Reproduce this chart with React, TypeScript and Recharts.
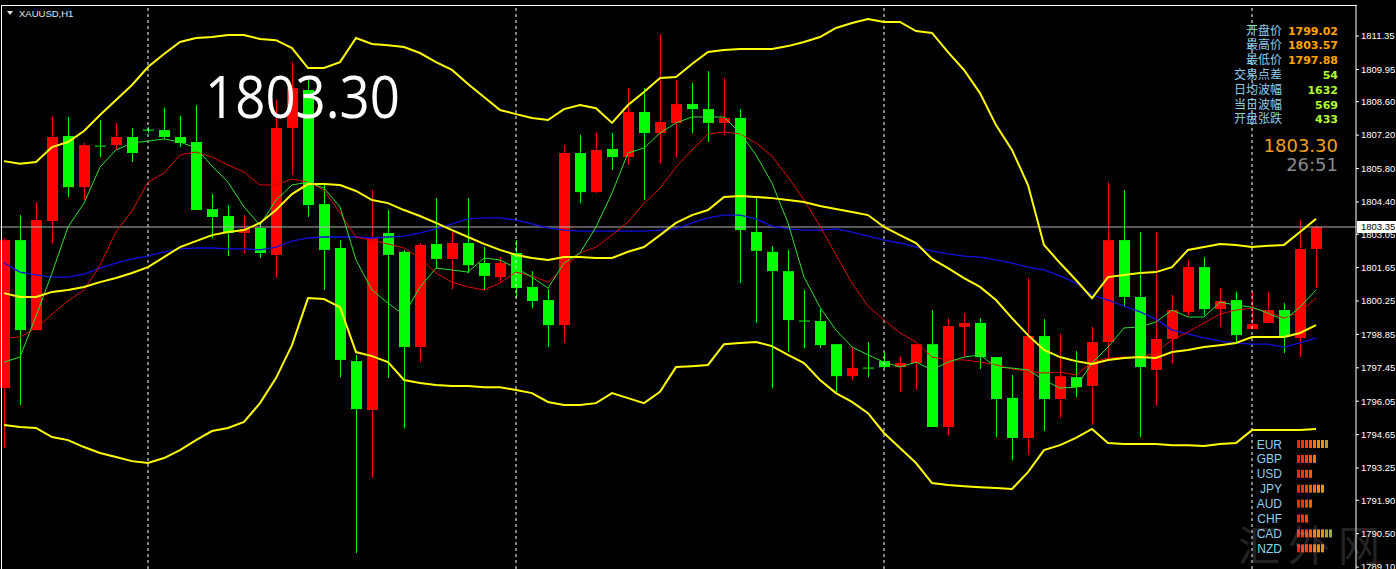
import { ComposedChart, Bar, Line, XAxis, YAxis, ReferenceLine } from "recharts";

const W = 1396;
const H = 569;

// XAUUSD H1 candles, oldest first
const opens = [1796.60, 1802.80, 1799.03, 1803.60, 1807.16, 1805.02, 1806.76, 1806.78, 1807.12, 1807.43,
  1807.41, 1807.12, 1806.91, 1804.10, 1803.81, 1803.10, 1803.31, 1802.18, 1807.50, 1809.09,
  1804.31, 1802.47, 1797.73, 1795.68, 1803.10, 1802.31, 1798.32, 1802.64, 1802.01, 1802.68,
  1801.84, 1801.25, 1802.26, 1800.84, 1800.29, 1799.24, 1806.45, 1804.81, 1806.62, 1806.28,
  1808.17, 1807.29, 1807.71, 1808.50, 1808.29, 1807.71, 1807.92, 1803.14, 1802.31, 1801.50,
  1799.43, 1799.41, 1798.44, 1797.10, 1797.46, 1797.73, 1797.48, 1797.65, 1798.44, 1794.97,
  1799.16, 1799.33, 1797.90, 1796.19, 1794.51, 1798.78, 1796.14, 1797.06, 1796.69, 1798.53,
  1802.80, 1800.42, 1797.36, 1798.66, 1799.79, 1801.67, 1799.91, 1800.29, 1799.07, 1799.33,
  1799.87, 1798.70, 1802.43];
const highs = [1802.89, 1803.85, 1804.40, 1807.96, 1807.96, 1806.87, 1807.83, 1807.71, 1807.50, 1807.54,
  1808.33, 1808.00, 1808.46, 1804.73, 1804.27, 1803.85, 1803.56, 1808.67, 1810.26, 1809.51,
  1805.19, 1802.80, 1797.99, 1804.90, 1804.06, 1802.39, 1802.68, 1804.56, 1803.14, 1804.56,
  1802.51, 1802.09, 1802.80, 1801.50, 1800.75, 1806.78, 1807.21, 1807.29, 1807.29, 1809.17,
  1809.17, 1811.44, 1809.51, 1809.38, 1809.88, 1809.59, 1808.29, 1804.56, 1802.56, 1802.39,
  1800.71, 1799.91, 1798.44, 1798.32, 1798.53, 1798.07, 1797.90, 1798.44, 1799.87, 1799.53,
  1799.74, 1799.53, 1797.90, 1797.15, 1801.21, 1799.49, 1798.87, 1798.15, 1799.16, 1805.23,
  1804.90, 1803.14, 1803.14, 1800.50, 1801.97, 1802.09, 1800.79, 1800.62, 1800.58, 1800.62,
  1800.16, 1803.64, 1803.43];
const lows = [1794.09, 1795.89, 1799.03, 1802.68, 1804.61, 1804.48, 1806.28, 1806.58, 1806.07, 1807.29,
  1807.04, 1806.70, 1804.06, 1802.89, 1802.13, 1802.26, 1802.05, 1801.21, 1805.53, 1803.77,
  1800.71, 1797.06, 1789.69, 1792.83, 1797.02, 1794.93, 1797.69, 1801.63, 1800.75, 1801.42,
  1800.71, 1801.04, 1800.37, 1799.95, 1798.32, 1798.49, 1804.35, 1804.77, 1805.74, 1805.95,
  1804.48, 1806.03, 1806.24, 1807.29, 1806.91, 1807.21, 1801.00, 1799.33, 1796.60, 1798.11,
  1798.28, 1798.28, 1796.44, 1796.94, 1797.06, 1797.44, 1796.44, 1796.52, 1794.97, 1794.63,
  1797.90, 1797.40, 1794.55, 1793.59, 1793.80, 1794.80, 1795.35, 1796.23, 1795.06, 1797.78,
  1799.99, 1794.55, 1795.85, 1797.65, 1799.66, 1799.66, 1799.16, 1798.49, 1799.07, 1799.33,
  1798.07, 1797.90, 1800.79];
const closes = [1802.80, 1799.03, 1803.64, 1807.12, 1805.02, 1806.78, 1806.72, 1807.12, 1806.45, 1807.39,
  1807.12, 1806.87, 1804.06, 1803.77, 1803.10, 1803.27, 1802.26, 1807.50, 1809.17, 1804.27,
  1802.39, 1797.78, 1795.72, 1802.89, 1802.18, 1798.32, 1802.60, 1802.01, 1802.68, 1801.75,
  1801.30, 1801.84, 1800.79, 1800.25, 1799.24, 1806.45, 1804.81, 1806.58, 1806.28, 1808.17,
  1807.29, 1807.75, 1808.50, 1808.29, 1807.71, 1807.92, 1803.22, 1802.35, 1801.50, 1799.45,
  1799.39, 1798.40, 1797.10, 1797.44, 1797.42, 1797.48, 1797.65, 1798.44, 1794.97, 1799.20,
  1799.33, 1797.90, 1796.14, 1794.51, 1798.78, 1796.14, 1797.10, 1796.64, 1798.53, 1802.80,
  1800.42, 1797.48, 1798.66, 1799.87, 1801.67, 1799.91, 1800.25, 1798.82, 1799.28, 1799.87,
  1798.74, 1802.43, 1803.35];

// indicator lines
const bbUpper = [1806.11, 1806.00, 1806.07, 1806.70, 1806.91, 1807.37, 1808.04, 1808.67, 1809.30, 1810.05,
  1810.60, 1811.10, 1811.27, 1811.31, 1811.39, 1811.39, 1811.23, 1811.18, 1810.85, 1810.01,
  1810.01, 1810.26, 1811.27, 1811.02, 1810.97, 1810.89, 1810.64, 1810.26, 1809.93, 1809.34,
  1808.80, 1808.25, 1808.08, 1807.92, 1807.83, 1808.29, 1808.46, 1808.33, 1807.71, 1808.46,
  1809.01, 1809.59, 1809.63, 1810.18, 1810.68, 1810.77, 1810.81, 1810.81, 1810.81, 1810.93,
  1811.10, 1811.31, 1811.69, 1811.90, 1812.06, 1811.94, 1811.94, 1811.56, 1811.48, 1810.68,
  1809.93, 1808.96, 1807.62, 1806.58, 1805.11, 1802.60, 1801.84, 1801.13, 1800.37, 1801.25,
  1801.34, 1801.42, 1801.46, 1801.67, 1802.39, 1802.51, 1802.64, 1802.60, 1802.51, 1802.56,
  1802.60, 1803.14, 1803.69];
const bbMid = [1800.58, 1800.42, 1800.42, 1800.63, 1800.71, 1800.84, 1801.04, 1801.21, 1801.42, 1801.67,
  1802.09, 1802.51, 1802.76, 1803.01, 1803.14, 1803.22, 1803.52, 1804.06, 1804.73, 1805.15,
  1805.15, 1805.11, 1804.86, 1804.48, 1804.35, 1804.06, 1803.81, 1803.52, 1803.22, 1802.93,
  1802.64, 1802.39, 1802.18, 1802.05, 1801.97, 1802.09, 1802.09, 1802.05, 1802.05, 1802.31,
  1802.51, 1803.01, 1803.52, 1803.85, 1804.06, 1804.61, 1804.65, 1804.61, 1804.56, 1804.48,
  1804.40, 1804.23, 1804.10, 1803.98, 1803.85, 1803.35, 1803.01, 1802.68, 1802.01, 1801.63,
  1801.21, 1800.84, 1800.29, 1799.53, 1798.82, 1798.20, 1797.90, 1797.73, 1797.61, 1797.78,
  1797.86, 1797.90, 1797.86, 1798.11, 1798.20, 1798.32, 1798.40, 1798.49, 1798.74, 1798.74,
  1798.74, 1798.91, 1799.24];
const bbLower = [1795.05, 1794.97, 1794.93, 1794.55, 1794.42, 1794.13, 1793.88, 1793.71, 1793.54, 1793.46,
  1793.67, 1794.00, 1794.42, 1794.80, 1794.93, 1795.18, 1795.97, 1797.02, 1798.40, 1800.37,
  1800.33, 1799.99, 1798.11, 1797.94, 1797.69, 1796.94, 1796.81, 1796.73, 1796.69, 1796.69,
  1796.64, 1796.64, 1796.52, 1796.39, 1796.02, 1795.89, 1795.89, 1795.97, 1796.39, 1796.18,
  1795.97, 1796.44, 1797.48, 1797.52, 1797.57, 1798.44, 1798.49, 1798.53, 1798.36, 1797.99,
  1797.65, 1796.94, 1796.39, 1796.02, 1795.55, 1794.72, 1794.09, 1793.46, 1792.62, 1792.54,
  1792.49, 1792.45, 1792.41, 1792.37, 1793.08, 1794.00, 1794.21, 1794.51, 1794.89, 1794.30,
  1794.26, 1794.26, 1794.26, 1794.21, 1794.21, 1794.17, 1794.26, 1794.30, 1794.84, 1794.84,
  1794.84, 1794.84, 1794.89];
const maBlue = [1801.84, 1801.46, 1801.34, 1801.25, 1801.25, 1801.38, 1801.63, 1801.84, 1802.01, 1802.13,
  1802.31, 1802.43, 1802.47, 1802.47, 1802.43, 1802.43, 1802.39, 1802.51, 1802.76, 1802.89,
  1802.93, 1802.93, 1802.93, 1802.89, 1802.93, 1802.97, 1803.10, 1803.27, 1803.48, 1803.69,
  1803.73, 1803.73, 1803.64, 1803.48, 1803.31, 1803.22, 1803.18, 1803.18, 1803.18, 1803.18,
  1803.18, 1803.22, 1803.27, 1803.52, 1803.73, 1803.85, 1803.85, 1803.69, 1803.39, 1803.27,
  1803.22, 1803.22, 1803.27, 1803.14, 1802.97, 1802.80, 1802.68, 1802.51, 1802.35, 1802.22,
  1802.13, 1802.09, 1801.97, 1801.84, 1801.67, 1801.55, 1801.30, 1801.00, 1800.50, 1800.29,
  1800.04, 1799.79, 1799.49, 1799.03, 1798.87, 1798.70, 1798.57, 1798.49, 1798.44, 1798.44,
  1798.32, 1798.49, 1798.70];
const maRed = [1798.70, 1798.74, 1799.12, 1799.70, 1800.25, 1800.71, 1801.75, 1803.14, 1804.02, 1805.23,
  1805.61, 1806.37, 1806.49, 1806.28, 1805.95, 1805.65, 1805.11, 1805.11, 1805.36, 1805.23,
  1804.90, 1803.94, 1802.93, 1802.80, 1802.64, 1802.47, 1802.05, 1801.42, 1801.04, 1800.84,
  1800.71, 1801.00, 1801.46, 1801.30, 1801.04, 1801.63, 1802.26, 1802.51, 1803.01, 1803.56,
  1804.35, 1804.98, 1805.86, 1806.58, 1807.25, 1807.33, 1807.25, 1806.87, 1806.32, 1805.44,
  1804.48, 1803.39, 1802.18, 1801.00, 1800.04, 1799.45, 1798.91, 1798.53, 1797.90, 1797.78,
  1797.78, 1797.69, 1797.57, 1797.40, 1797.31, 1797.23, 1797.27, 1797.15, 1797.69, 1797.86,
  1797.90, 1797.86, 1798.11, 1798.61, 1798.95, 1799.33, 1799.70, 1799.87, 1799.95, 1799.79,
  1799.53, 1799.79, 1800.37];
const maGreen = [1797.69, 1797.90, 1799.62, 1801.42, 1803.35, 1804.35, 1805.86, 1806.58, 1806.87, 1806.95,
  1807.04, 1806.91, 1806.66, 1805.90, 1805.23, 1804.19, 1803.43, 1804.48, 1805.11, 1805.23,
  1804.98, 1804.19, 1801.97, 1800.71, 1800.16, 1799.66, 1800.84, 1801.63, 1801.55, 1801.46,
  1802.05, 1801.97, 1801.63, 1801.25, 1800.79, 1801.84, 1802.26, 1803.35, 1804.77, 1806.45,
  1806.66, 1807.29, 1807.71, 1807.96, 1807.96, 1807.96, 1807.29, 1806.37, 1805.19, 1803.52,
  1801.25, 1799.99, 1799.03, 1798.32, 1797.99, 1797.69, 1797.48, 1797.69, 1797.36, 1797.69,
  1797.90, 1797.99, 1797.48, 1797.44, 1797.36, 1796.94, 1796.60, 1796.64, 1797.65, 1798.32,
  1799.12, 1799.16, 1799.37, 1799.87, 1799.58, 1799.58, 1800.20, 1800.08, 1799.99, 1799.74,
  1799.45, 1799.99, 1800.71];

const priceTicks = [1811.35, 1809.95, 1808.60, 1807.20, 1805.80, 1804.40, 1803.05, 1801.65, 1800.25,
  1798.85, 1797.45, 1796.05, 1794.65, 1793.25, 1791.90, 1790.50, 1789.10];
const daySeparators = [9, 32, 55, 78];
const bidPrice = 1803.35;

const symbol = "XAUUSD,H1";
const lastPrice = "1803.30";
const countdown = "26:51";
const infoLabels = ["开盘价", "最高价", "最低价", "交易点差", "日均波幅", "当日波幅", "开盘张跌"];
const infoValues = ["1799.02", "1803.57", "1797.88", "54", "1632", "569", "433"];
const currencies = ["EUR", "GBP", "USD", "JPY", "AUD", "CHF", "CAD", "NZD"];
const strength = [8, 5, 4, 7, 4, 3, 9, 7];
const segColors = ["#ff2200", "#ff3300", "#ff4400", "#ff5a00", "#ff7400", "#ee8c00", "#d99a10", "#a8a020", "#98aa30", "#88aa33"];

const rows = opens.map((o, i) => ({
  i,
  open: o,
  high: highs[i],
  low: lows[i],
  close: closes[i],
  range: [lows[i], highs[i]],
  upper: bbUpper[i],
  mid: bbMid[i],
  lower: bbLower[i],
  blue: maBlue[i],
  red: maRed[i],
  green: maGreen[i],
}));

function Candle(props: any) {
  const { x, y, width, height, payload } = props;
  if (x == null || y == null || !payload) return null;
  const top = Math.min(y, y + height);
  const h = Math.abs(height);
  const { open, close, high, low } = payload;
  const ppu = h / (high - low);
  const cx = Math.round(x + width / 2);
  const yOf = (v: number) => top + (high - v) * ppu;
  const color = close >= open ? "#ff0000" : "#00ff00";
  const bTop = yOf(Math.max(open, close));
  const bBot = yOf(Math.min(open, close));
  return (
    <g>
      <line x1={cx + 0.5} x2={cx + 0.5} y1={top} y2={top + h} stroke={color} strokeWidth={1} />
      <rect x={cx - 5} y={bTop} width={11} height={Math.max(1, bBot - bTop)} fill={color} />
    </g>
  );
}

function BidLabel(props: any) {
  const vb = props.viewBox;
  if (!vb) return null;
  const x0 = vb.x + vb.width;
  return (
    <g>
      <rect x={x0 + 1} y={vb.y - 6} width={39} height={12} fill="#ffffff" />
      <text x={x0 + 5} y={vb.y + 3.5} fontSize={9.5} fill="#000" fontFamily="Liberation Sans, Arial, sans-serif">
        {bidPrice.toFixed(2)}
      </text>
    </g>
  );
}

export default function App() {
  const ui = "Liberation Sans, Arial, sans-serif";
  const cjk = "Noto Sans CJK SC, sans-serif";
  return (
    <div style={{ position: "absolute", left: 0, top: 0, width: W, height: H, background: "#000", overflow: "hidden" }}>
      <ComposedChart width={W} height={H} data={rows} margin={{ top: 6, right: 0, bottom: 0, left: 0 }}>
        <XAxis dataKey="i" type="number" domain={[-0.25, 84.5]} allowDataOverflow hide />
        <YAxis
          orientation="right"
          width={40}
          domain={[1789.02, 1812.61]}
          allowDataOverflow
          ticks={priceTicks}
          interval={0}
          tickFormatter={(v: number) => v.toFixed(2)}
          tick={{ fill: "#ffffff", fontSize: 9.5, fontFamily: ui }}
          tickSize={3}
          tickMargin={2}
          axisLine={{ stroke: "#ffffff" }}
          tickLine={{ stroke: "#ffffff" }}
        />
        {daySeparators.map((d) => (
          <ReferenceLine key={d} x={d} stroke="#ffffff" strokeDasharray="3 3" />
        ))}
        <ReferenceLine y={bidPrice} stroke="#b4b4b4" label={<BidLabel />} />
        <Bar dataKey="range" barSize={11} shape={<Candle />} isAnimationActive={false} />
        <Line dataKey="blue" type="linear" stroke="#1010e0" strokeWidth={1.3} dot={false} isAnimationActive={false} />
        <Line dataKey="red" type="linear" stroke="#e00000" strokeWidth={1} dot={false} isAnimationActive={false} />
        <Line dataKey="green" type="linear" stroke="#30e030" strokeWidth={1} dot={false} isAnimationActive={false} />
        <Line dataKey="upper" type="linear" stroke="#ffff00" strokeWidth={2} dot={false} isAnimationActive={false} />
        <Line dataKey="mid" type="linear" stroke="#ffff00" strokeWidth={2} dot={false} isAnimationActive={false} />
        <Line dataKey="lower" type="linear" stroke="#ffff00" strokeWidth={2} dot={false} isAnimationActive={false} />
      </ComposedChart>

      <div style={{ position: "absolute", left: 1, top: 5, width: 1355, height: 600, borderTop: "1px solid #fff", borderLeft: "1px solid #fff", pointerEvents: "none" }} />

      <svg width={W} height={H} style={{ position: "absolute", left: 0, top: 0, pointerEvents: "none" }}>
        <polygon points="7,11 13,11 10,15" fill="#e0e0e0" />
        <text x={19} y={17} fontSize={9.5} fill="#e8e8e8" fontFamily={ui}>{symbol}</text>

        <text x={205} y={118} fontSize={58} fill="#ffffff" fontFamily="Open Sans, sans-serif" textLength={195} lengthAdjust="spacingAndGlyphs">
          {lastPrice}
        </text>

        {infoLabels.map((t, k) => (
          <g key={t}>
            <text x={1282} y={34.5 + k * 14.8} textAnchor="end" fontSize={12} fill="#8ccff0" fontFamily={cjk}>{t}</text>
            <text x={1338} y={34.5 + k * 14.8} textAnchor="end" fontSize={11} fontWeight="bold" fill={k < 3 ? "#ffa500" : "#adff2f"} fontFamily="DejaVu Sans, sans-serif">
              {infoValues[k]}
            </text>
          </g>
        ))}
        <text x={1338} y={152} textAnchor="end" fontSize={18} fill="#f5a020" fontFamily="DejaVu Sans, sans-serif">{lastPrice}</text>
        <text x={1338} y={171} textAnchor="end" fontSize={18} fill="#8a8a8a" fontFamily="DejaVu Sans, sans-serif">{countdown}</text>

        {currencies.map((c, k) => {
          const cy = 444 + k * 14.9;
          return (
            <g key={c}>
              <text x={1282} y={cy + 4.5} textAnchor="end" fontSize={12} fill="#8ccff0" fontFamily={ui}>{c}</text>
              {Array.from({ length: strength[k] }).map((_, s) => (
                <rect key={s} x={1297 + s * 4} y={cy - 4} width={3} height={8} fill={segColors[s]} />
              ))}
            </g>
          );
        })}

        <text x={1238} y={561} fontSize={42} letterSpacing={8} fill="rgba(190,190,190,0.2)" fontFamily={cjk}>汇外网</text>
      </svg>
    </div>
  );
}
